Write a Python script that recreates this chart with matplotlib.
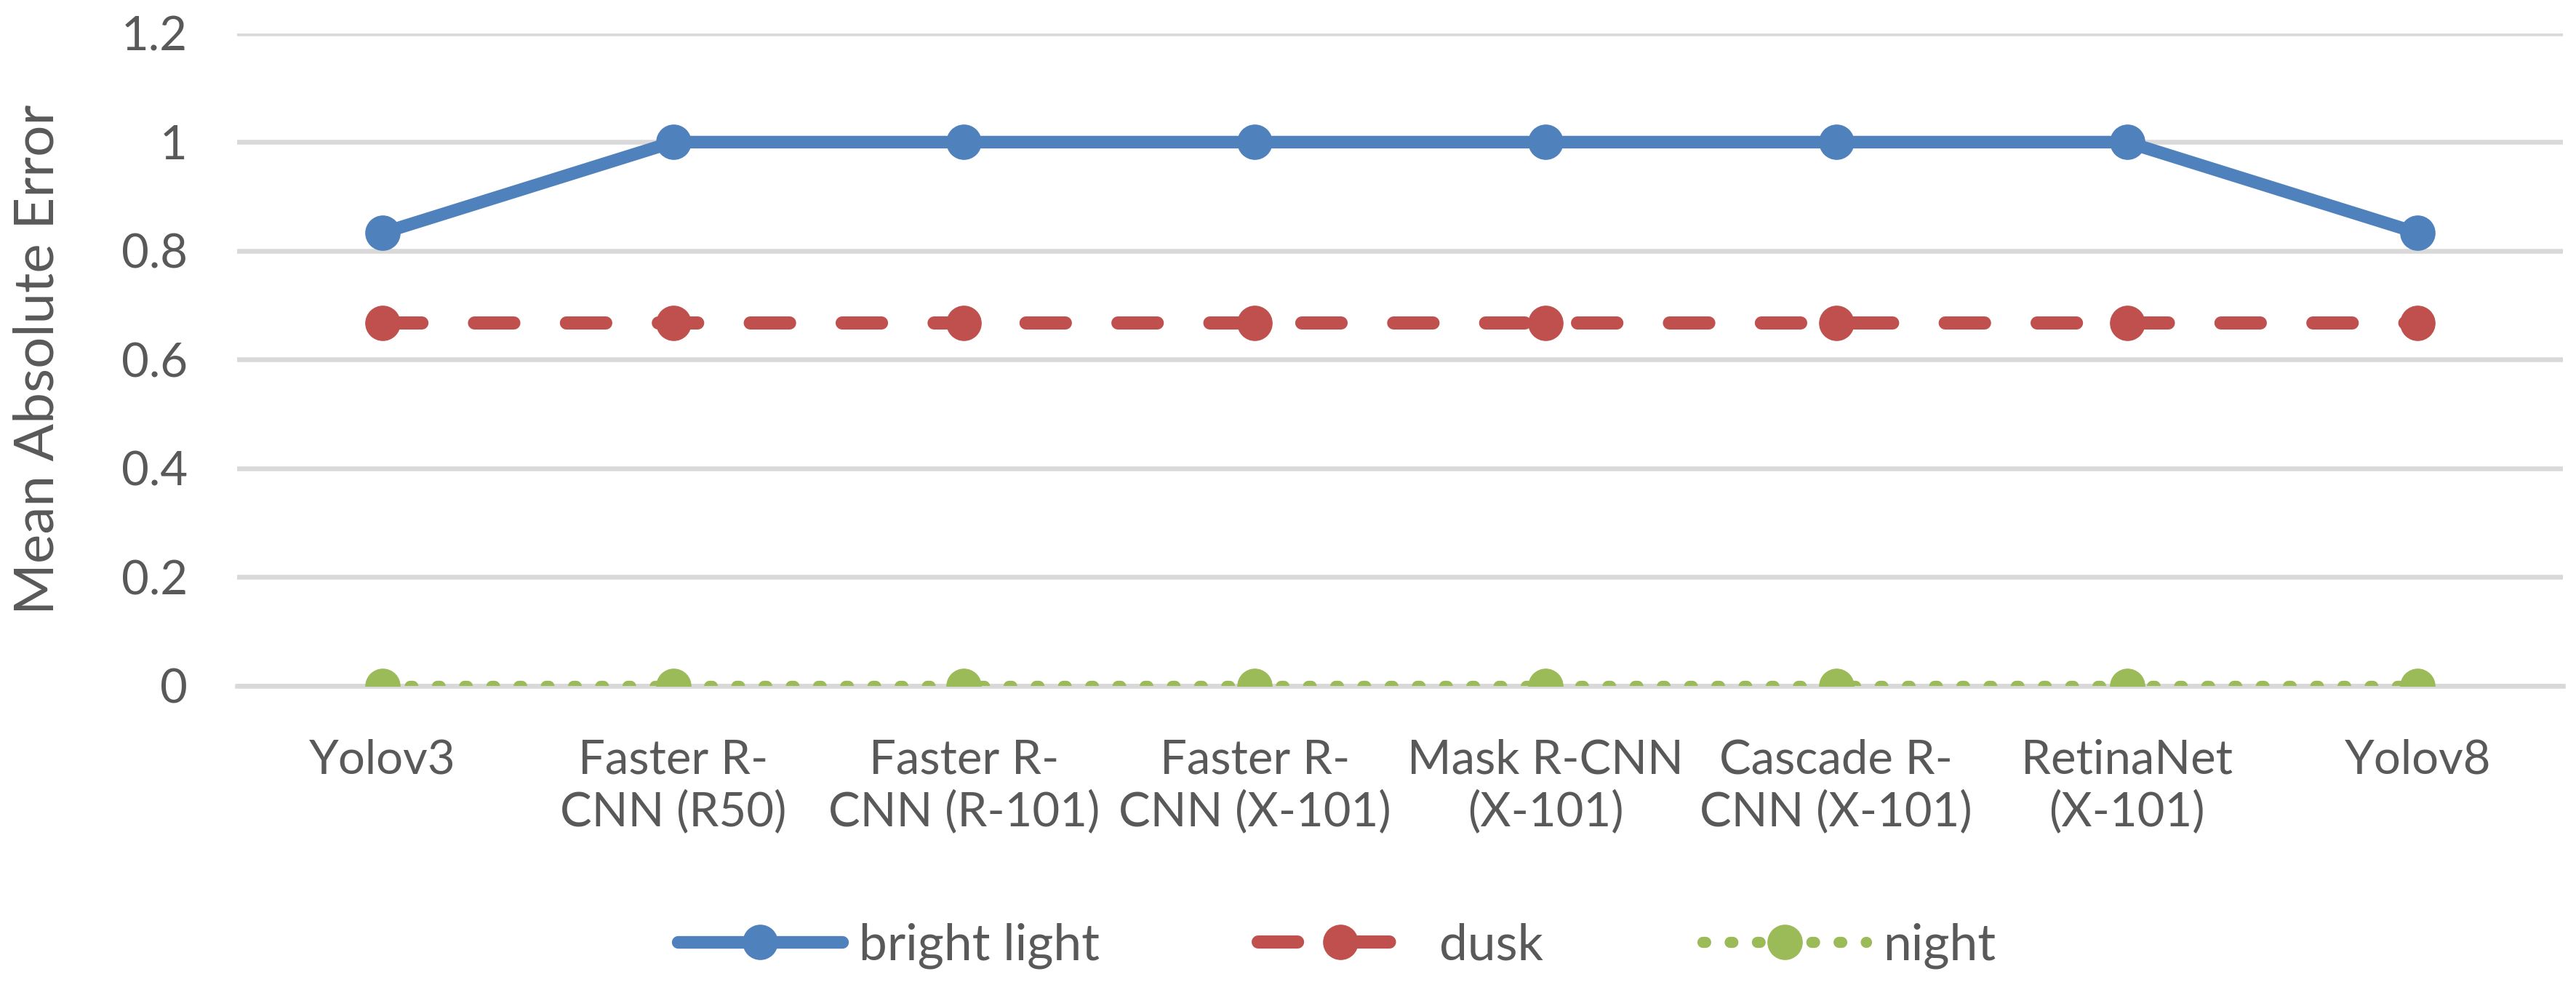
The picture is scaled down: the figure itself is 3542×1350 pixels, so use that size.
import matplotlib
matplotlib.use("Agg")
import matplotlib.pyplot as plt

plt.rcParams['font.family'] = ['Lato', 'DejaVu Sans']

# data
models = ["Yolov3", "Faster R-\nCNN (R50)", "Faster R-\nCNN (R-101)", "Faster R-\nCNN (X-101)",
          "Mask R-CNN\n(X-101)", "Cascade R-\nCNN (X-101)", "RetinaNet\n(X-101)", "Yolov8"]
bright_light = [0.833, 1, 1, 1, 1, 1, 1, 0.833]
dusk = [0.667, 0.667, 0.667, 0.667, 0.667, 0.667, 0.667, 0.667]
night = [0, 0, 0, 0, 0, 0, 0, 0]
y_ticks = [0, 0.2, 0.4, 0.6, 0.8, 1, 1.2]
y_tick_labels = ["0", "0.2", "0.4", "0.6", "0.8", "1", "1.2"]

text_col = "#595959"
grid_col = "#D9D9D9"

fig = plt.figure(figsize=(35.42, 13.5), dpi=100)
ax = fig.add_axes([0.092, 0.3015, 0.903, 0.6645])

x = list(range(len(models)))

ax.plot(x, night, color="#9BBB59", lw=11, dashes=(0.25, 2.2), dash_capstyle="round",
        marker="o", ms=34, mec="#9BBB59", label="night", zorder=3)
ax.plot(x, dusk, color="#C0504D", lw=13, dashes=(3.0, 4.0), dash_capstyle="round",
        marker="o", ms=34, mec="#C0504D", label="dusk", zorder=4)
ax.plot(x, bright_light, color="#4F81BD", lw=12.5, solid_capstyle="round",
        marker="o", ms=34, mec="#4F81BD", label="bright light", zorder=5)

ax.set_xlim(-0.5, len(models) - 0.5)
ax.set_ylim(0, 1.2)
ax.set_yticks(y_ticks)
ax.set_yticklabels(y_tick_labels)
ax.set_xticks(x)
ax.set_xticklabels(models, multialignment="center", linespacing=1.22)

ax.grid(axis="y", color=grid_col, lw=4.7)
ax.set_axisbelow(True)
for s in ["top", "right", "left"]:
    ax.spines[s].set_visible(False)
ax.spines["bottom"].set_color(grid_col)
ax.spines["bottom"].set_linewidth(4.7)
ax.spines["bottom"].set_zorder(0.5)

ax.tick_params(axis="both", length=0, colors=text_col, labelsize=47)
ax.tick_params(axis="y", pad=49)
ax.tick_params(axis="x", pad=52)

ax.set_ylabel("Mean Absolute Error", color=text_col, fontsize=55, labelpad=58)

handles, labels = ax.get_legend_handles_labels()
order = [2, 1, 0]
leg = fig.legend([handles[i] for i in order], [labels[i] for i in order],
                 loc="center", bbox_to_anchor=(0.519, 0.037), ncol=3, frameon=False,
                 fontsize=50, handlelength=3.25, columnspacing=3.15, handletextpad=0.33,
                 numpoints=1)
for t in leg.get_texts():
    t.set_color(text_col)

fig.savefig("out.png", dpi=100, facecolor="white")
